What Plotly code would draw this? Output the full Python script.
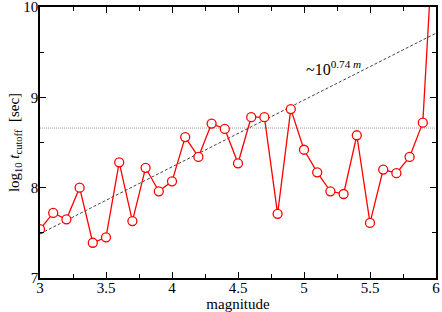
import plotly.graph_objects as go

magnitude = [3.0, 3.1, 3.2, 3.3, 3.4, 3.5, 3.6, 3.7, 3.8, 3.9,
             4.0, 4.1, 4.2, 4.3, 4.4, 4.5, 4.6, 4.7, 4.8, 4.9,
             5.0, 5.1, 5.2, 5.3, 5.4, 5.5, 5.6, 5.7, 5.8, 5.9, 6.0]
log_t_cutoff = [7.54, 7.72, 7.65, 8.00, 7.39, 7.45, 8.28, 7.63, 8.22, 7.96,
                8.07, 8.56, 8.34, 8.71, 8.65, 8.27, 8.78, 8.78, 7.71, 8.87,
                8.42, 8.17, 7.96, 7.93, 8.58, 7.61, 8.20, 8.16, 8.34, 8.72, 11.3]

fit_slope = 0.74
fit_intercept = 5.27
fit_m = [3.0, 6.0]
fit_y = [fit_slope * m + fit_intercept for m in fit_m]

hline_level = 8.66

FONT = "Liberation Serif"

fig = go.Figure()
fig.add_trace(go.Scatter(x=fit_m, y=[hline_level, hline_level], mode="lines",
                         line=dict(color="#999999", width=1, dash="1px,1px"),
                         hoverinfo="skip", showlegend=False))
fig.add_trace(go.Scatter(x=fit_m, y=fit_y, mode="lines",
                         line=dict(color="#444444", width=1, dash="3px,2px"),
                         hoverinfo="skip", showlegend=False))
fig.add_trace(go.Scatter(x=magnitude, y=log_t_cutoff, mode="lines+markers",
                         line=dict(color="#ff0000", width=1.3),
                         marker=dict(symbol="circle", size=9, color="white",
                                     line=dict(color="#ff0000", width=1.3)),
                         cliponaxis=True, showlegend=False))

fig.add_annotation(x=5.22, y=9.32, xref="x", yref="y",
                   text="~10<sup>0.74 <i>m</i></sup>", showarrow=False,
                   font=dict(family=FONT, size=16, color="black"))

axis_common = dict(showgrid=False, zeroline=False, showline=True, linecolor="black",
                   linewidth=1.5, mirror="ticks", ticks="inside", ticklen=6,
                   tickwidth=1, tickcolor="black", automargin=False,
                   ticklabeloverflow="allow",
                   tickfont=dict(family=FONT, size=15, color="black"))

fig.update_xaxes(range=[3, 6], dtick=0.5, tick0=3,
                 minor=dict(dtick=0.25, ticks="inside", ticklen=4, tickcolor="black"),
                 ticklabelstandoff=-5,
                 title=dict(text="magnitude", font=dict(family=FONT, size=15, color="black"),
                            standoff=0),
                 **axis_common)
fig.update_yaxes(range=[7, 10], dtick=1, tick0=7,
                 minor=dict(dtick=0.5, ticks="inside", ticklen=4, tickcolor="black"),
                 ticklabelstandoff=-3,
                 title=dict(text="log<sub>10</sub> <i>t</i><sub>cutoff</sub>  [sec]",
                            font=dict(family=FONT, size=15, color="black"), standoff=0),
                 **axis_common)

fig.update_layout(width=442, height=312,
                  margin=dict(l=40, r=6, t=7, b=34),
                  font=dict(family=FONT),
                  plot_bgcolor="white", paper_bgcolor="white")

fig.write_html("out.html", config={"displayModeBar": False},
               post_script="document.body.style.margin='0';document.body.style.overflow='hidden';")
